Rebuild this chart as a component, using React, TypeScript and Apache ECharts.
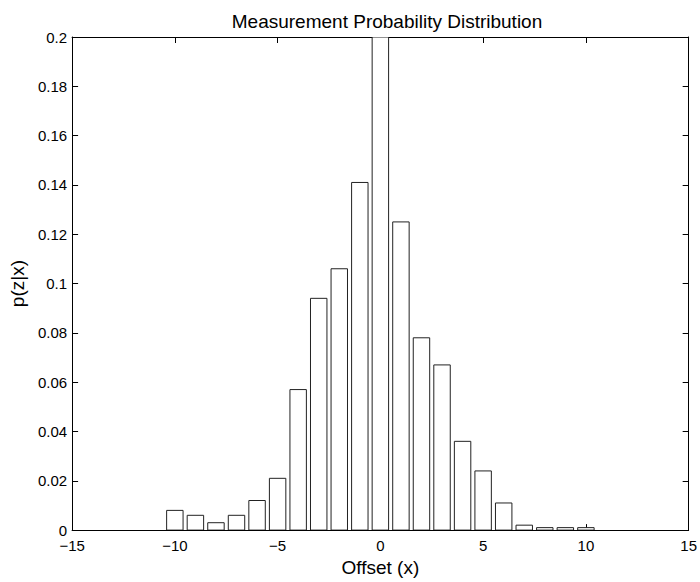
import React, { useEffect, useRef } from "react";
import * as echarts from "echarts";

const offsets = [-10, -9, -8, -7, -6, -5, -4, -3, -2, -1, 0, 1, 2, 3, 4, 5, 6, 7, 8, 9, 10];
const probabilities = [0.008, 0.006, 0.003, 0.006, 0.012, 0.021, 0.057, 0.094, 0.106, 0.141, 0.3, 0.125, 0.078, 0.067, 0.036, 0.024, 0.011, 0.002, 0.001, 0.001, 0.001];
const xTicks = [-15, -10, -5, 0, 5, 10, 15];
const yTicks = [0, 0.02, 0.04, 0.06, 0.08, 0.1, 0.12, 0.14, 0.16, 0.18, 0.2];
const BAR_WIDTH = 0.8;

const FONT = "'Liberation Sans', Arial, Helvetica, sans-serif";

export default function App() {
  const ref = useRef<HTMLDivElement>(null);
  useEffect(() => {
    if (!ref.current) return;
    document.body.style.margin = "0";
    const chart = echarts.init(ref.current, undefined, { renderer: "svg" });
    const data = offsets.map((x, i) => [x, probabilities[i]]);
    const axisCommon = {
      type: "value" as const,
      axisLine: { show: true, onZero: false, lineStyle: { color: "#000", width: 1 } },
      axisTick: { show: true, inside: true, length: 6, lineStyle: { color: "#000" } },
      splitLine: { show: false },
    };
    chart.setOption({
      animation: false,
      backgroundColor: "#fff",
      title: {
        text: "Measurement Probability Distribution",
        left: 382,
        textAlign: "center",
        top: 7,
        textStyle: { fontFamily: FONT, fontSize: 19, fontWeight: "normal", color: "#000" },
      },
      grid: { left: 70, right: 9, top: 37, bottom: 47, show: false },
      xAxis: [
        {
          ...axisCommon,
          position: "bottom",
          min: xTicks[0],
          max: xTicks[xTicks.length - 1],
          interval: 5,
          name: "Offset (x)",
          nameLocation: "middle",
          nameGap: 21,
          nameTextStyle: { fontFamily: FONT, fontSize: 19, color: "#000" },
          axisLabel: {
            fontFamily: FONT,
            fontSize: 15,
            color: "#000",
            margin: 8,
            formatter: (v: number) => String(v).replace("-", "\u2212"),
          },
        },
        {
          ...axisCommon,
          position: "top",
          min: xTicks[0],
          max: xTicks[xTicks.length - 1],
          interval: 5,
          axisLabel: { show: false },
        },
      ],
      yAxis: [
        {
          ...axisCommon,
          position: "left",
          min: yTicks[0],
          max: yTicks[yTicks.length - 1],
          interval: 0.02,
          name: "p(z|x)",
          nameLocation: "middle",
          nameGap: 38,
          nameTextStyle: { fontFamily: FONT, fontSize: 19, color: "#000" },
          axisLabel: {
            fontFamily: FONT,
            fontSize: 15,
            color: "#000",
            margin: 5,
            formatter: (v: number) => String(Math.round(v * 100) / 100),
          },
        },
        {
          ...axisCommon,
          position: "right",
          min: yTicks[0],
          max: yTicks[yTicks.length - 1],
          interval: 0.02,
          axisLabel: { show: false },
        },
      ],
      series: [
        {
          type: "custom",
          xAxisIndex: 0,
          yAxisIndex: 0,
          clip: true,
          data,
          renderItem: (params: any, api: any) => {
            const x = api.value(0);
            const y = api.value(1);
            const cs = params.coordSys;
            const topV = Math.min(y, 0.2);
            const p0 = api.coord([x - BAR_WIDTH / 2, 0]);
            const p1 = api.coord([x + BAR_WIDTH / 2, topV]);
            const top = y > 0.2 ? cs.y : p1[1];
            return {
              type: "rect",
              shape: { x: p0[0], y: top, width: p1[0] - p0[0], height: p0[1] - top },
              style: { fill: "#fff", stroke: "#222", lineWidth: 1 },
            };
          },
        },
      ],
    });
    return () => chart.dispose();
  }, []);
  return <div ref={ref} style={{ width: 700, height: 582 }} />;
}
